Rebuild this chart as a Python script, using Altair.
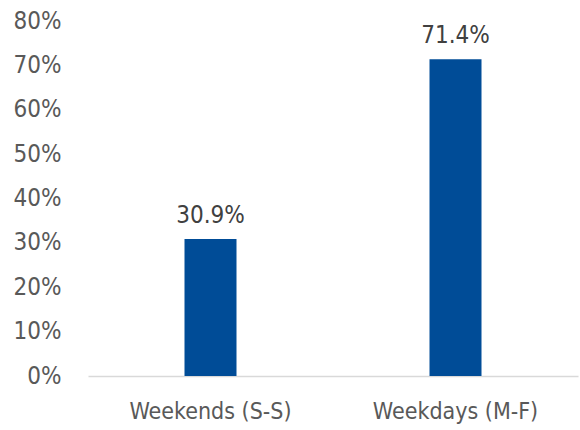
import altair as alt
import pandas as pd

categories = ["Weekends (S-S)", "Weekdays (M-F)"]
shares = [0.309, 0.714]
labels = ["30.9%", "71.4%"]

df = pd.DataFrame({"period": categories, "share": shares, "label": labels})

FONT = "'DejaVu Sans Condensed', Roboto, sans-serif"

x = alt.X(
    "period:N",
    sort=categories,
    title=None,
    scale=alt.Scale(paddingInner=0, paddingOuter=0),
    axis=alt.Axis(
        labelAngle=0,
        labelFont=FONT,
        labelFontSize=23,
        labelColor="#595959",
        labelPadding=24,
        ticks=False,
        domainColor="#D9D9D9",
        domainWidth=1.5,
    ),
)

bars = alt.Chart(df).mark_bar(size=52, color="#004C97").encode(
    x=x,
    y=alt.Y(
        "share:Q",
        title=None,
        scale=alt.Scale(domain=[0, 0.8], nice=False),
        axis=alt.Axis(
            format=".0%",
            values=[0, 0.1, 0.2, 0.3, 0.4, 0.5, 0.6, 0.7, 0.8],
            labelFont=FONT,
            labelFontSize=24,
            labelColor="#595959",
            labelPadding=27,
            ticks=False,
            domain=False,
            grid=False,
        ),
    ),
)

text = alt.Chart(df).mark_text(
    font=FONT, fontSize=24, color="#404040", baseline="alphabetic", dy=-16
).encode(x=x, y="share:Q", text="label:N")

chart = (
    (bars + text)
    .properties(
        width=490,
        height=355,
        autosize=alt.AutoSizeParams(type="none"),
        padding={"left": 88, "top": 21, "right": 2, "bottom": 54},
    )
    .configure(background="white")
    .configure_view(stroke=None)
)

chart.save("out.html", embed_options={"renderer": "svg", "actions": False})
